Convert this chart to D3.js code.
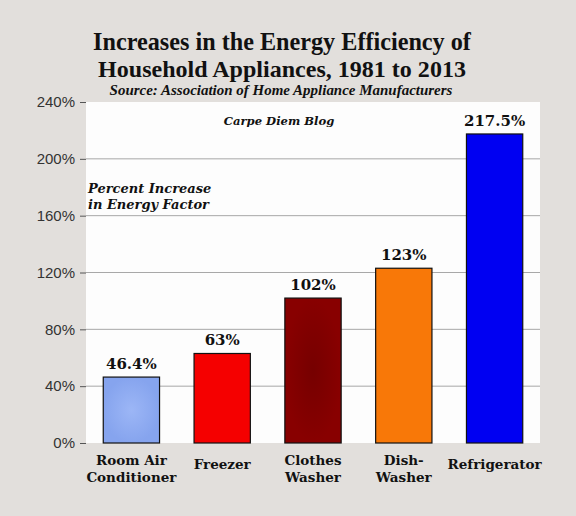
<!DOCTYPE html>
<html>
<head>
<meta charset="utf-8">
<script src="https://cdn.jsdelivr.net/npm/d3@7"></script>
<style>
  body { margin: 0; background: #e2dfdc; }
</style>
</head>
<body>
<div id="chart"></div>
<script>
const categories = [["Room Air", "Conditioner"], ["Freezer"], ["Clothes", "Washer"], ["Dish-", "Washer"], ["Refrigerator"]];
const values = [46.4, 63, 102, 123, 217.5];
const valueLabels = ["46.4%", "63%", "102%", "123%", "217.5%"];
const barColors = ["#8eacf2", "#f50000", "#800000", "#f87808", "#0000f2"];
const yTicks = [0, 40, 80, 120, 160, 200, 240];

const W = 576, H = 516;
const MARGIN = { TOP: 102, RIGHT: 36, BOTTOM: 73, LEFT: 86 };
const width = W - MARGIN.LEFT - MARGIN.RIGHT;
const height = H - MARGIN.TOP - MARGIN.BOTTOM;
const serif = "'DejaVu Serif', Georgia, serif";
const titleSerif = "'Liberation Serif', 'Times New Roman', serif";

const svg = d3.select("#chart").append("svg")
  .attr("width", W)
  .attr("height", H)
  .style("background-color", "#e2dfdc");

const defs = svg.append("defs");
const grad = defs.append("radialGradient").attr("id", "acGrad");
grad.append("stop").attr("offset", "0%").attr("stop-color", "#9cb6f6");
grad.append("stop").attr("offset", "100%").attr("stop-color", "#86a4ee");
const grad2 = defs.append("radialGradient").attr("id", "cwGrad");
grad2.append("stop").attr("offset", "0%").attr("stop-color", "#760000");
grad2.append("stop").attr("offset", "100%").attr("stop-color", "#880000");

// shrink/grow font so the line spans the width seen in the picture
function fitText(sel, target) {
  const size = parseFloat(sel.style("font-size"));
  const len = sel.node().getComputedTextLength();
  sel.style("font-size", (size * target / len).toFixed(2) + "px");
}

// titles
const t1 = svg.append("text")
  .attr("x", 282).attr("y", 50)
  .attr("text-anchor", "middle")
  .style("font-family", titleSerif).style("font-weight", 700).style("font-size", "24px")
  .style("fill", "#111")
  .text("Increases in the Energy Efficiency of");
fitText(t1, 378);
const t2 = svg.append("text")
  .attr("x", 282).attr("y", 77)
  .attr("text-anchor", "middle")
  .style("font-family", titleSerif).style("font-weight", 700).style("font-size", "24px")
  .style("fill", "#111")
  .text("Household Appliances, 1981 to 2013");
fitText(t2, 368);
const sub = svg.append("text")
  .attr("x", 281).attr("y", 95)
  .attr("text-anchor", "middle")
  .style("font-family", titleSerif).style("font-weight", 700).style("font-style", "italic").style("font-size", "14px")
  .style("fill", "#111")
  .text("Source: Association of Home Appliance Manufacturers");
fitText(sub, 343);

const g = svg.append("g")
  .attr("transform", `translate(${MARGIN.LEFT}, ${MARGIN.TOP})`);

const x = d3.scaleBand().domain(d3.range(values.length)).range([0, width]).paddingInner(0.38).paddingOuter(0.19);
const y = d3.scaleLinear().domain([0, 240]).range([height, 0]);

g.append("rect")
  .attr("width", width).attr("height", height)
  .attr("fill", "#fdfdfd");

// gridlines
g.selectAll(".grid").data(yTicks.filter(d => d > 0 && d < 240)).enter()
  .append("line")
  .attr("x1", 0).attr("x2", width)
  .attr("y1", d => y(d)).attr("y2", d => y(d))
  .attr("stroke", "#a8a8a8").attr("stroke-width", 1);

// y axis
const yAxis = g.append("g")
  .call(d3.axisLeft(y).tickValues(yTicks).tickFormat(d => d + "%").tickSize(6).tickPadding(5));
yAxis.select(".domain").remove();
yAxis.selectAll(".tick line").attr("stroke", "#555");
yAxis.selectAll(".tick text")
  .style("font-family", "'Liberation Sans', Arial, sans-serif")
  .style("font-size", "15px")
  .style("fill", "#333");

// bars
g.selectAll(".bar").data(values).enter()
  .append("rect")
  .attr("x", (d, i) => x(i))
  .attr("y", d => y(d))
  .attr("width", x.bandwidth())
  .attr("height", d => height - y(d))
  .attr("fill", (d, i) => i === 0 ? "url(#acGrad)" : i === 2 ? "url(#cwGrad)" : barColors[i])
  .attr("stroke", "#111")
  .attr("stroke-width", 1.2);

// value labels
g.selectAll(".vlabel").data(values).enter()
  .append("text")
  .attr("x", (d, i) => x(i) + x.bandwidth() / 2)
  .attr("y", d => y(d) - 8)
  .attr("text-anchor", "middle")
  .style("font-family", serif).style("font-weight", 700).style("font-size", "15px")
  .style("fill", "#111")
  .text((d, i) => valueLabels[i]);

// category labels
categories.forEach((lines, i) => {
  const t = g.append("text")
    .attr("x", x(i) + x.bandwidth() / 2)
    .attr("y", height + (lines.length === 1 ? 26 : 22))
    .attr("text-anchor", "middle")
    .style("font-family", serif).style("font-weight", 700).style("font-size", "13.5px")
    .style("fill", "#111");
  lines.forEach((l, j) => {
    t.append("tspan").attr("x", x(i) + x.bandwidth() / 2).attr("dy", j === 0 ? 0 : 17).text(l);
  });
});

// annotations
g.append("text")
  .attr("x", 193).attr("y", 23)
  .attr("text-anchor", "middle")
  .style("font-family", serif).style("font-weight", 700).style("font-style", "italic").style("font-size", "11.6px")
  .style("fill", "#111")
  .text("Carpe Diem Blog");
const ann = g.append("text")
  .attr("x", 2).attr("y", 91)
  .style("font-family", serif).style("font-weight", 700).style("font-style", "italic").style("font-size", "13px")
  .style("fill", "#111");
ann.append("tspan").attr("x", 2).text("Percent Increase");
ann.append("tspan").attr("x", 2).attr("dy", 16).text("in Energy Factor");
</script>
</body>
</html>
